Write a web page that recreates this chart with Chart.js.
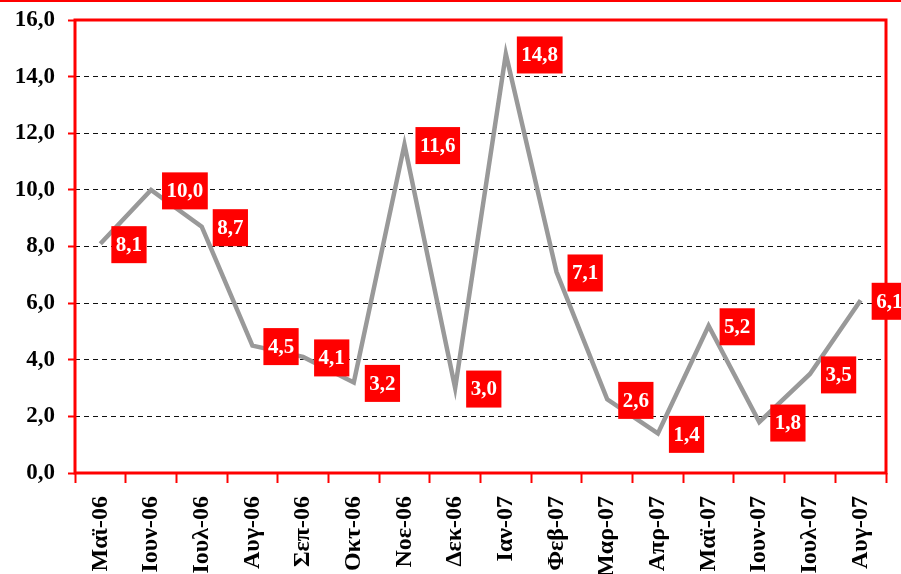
<!DOCTYPE html>
<html>
<head>
<meta charset="utf-8">
<script src="https://cdn.jsdelivr.net/npm/chart.js@4.4.0/dist/chart.umd.min.js"></script>
<style>
  html, body { margin: 0; padding: 0; background: #fff; }
  #wrap { width: 901px; height: 574px; position: relative; }
</style>
</head>
<body>
<div id="wrap"><canvas id="c" width="901" height="574"></canvas></div>
<script>
// monthly values, May 2006 - Aug 2007
var MONTHS = ['Μαϊ-06', 'Ιουν-06', 'Ιουλ-06', 'Αυγ-06', 'Σεπ-06', 'Οκτ-06', 'Νοε-06', 'Δεκ-06',
  'Ιαν-07', 'Φεβ-07', 'Μαρ-07', 'Απρ-07', 'Μαϊ-07', 'Ιουν-07', 'Ιουλ-07', 'Αυγ-07'];
var VALUES = [8.1, 10.0, 8.7, 4.5, 4.1, 3.2, 11.6, 3.0, 14.8, 7.1, 2.6, 1.4, 5.2, 1.8, 3.5, 6.1];
var Y_MIN = 0, Y_MAX = 16, Y_STEP = 2;

var RED = '#ff0000';
var SERIF = '"Liberation Serif", "Times New Roman", serif';

function fmtComma(v) {
  return Number(v).toFixed(1).replace('.', ',');
}

// red frame round the plot area + thin red rule at the very top
var framePlugin = {
  id: 'frame',
  afterDatasetsDraw: function (chart) {
    var a = chart.chartArea, ctx = chart.ctx;
    ctx.save();
    ctx.strokeStyle = RED;
    ctx.lineWidth = 3;
    ctx.strokeRect(a.left, a.top, a.right - a.left, a.bottom - a.top);
    ctx.fillStyle = RED;
    ctx.fillRect(0, 0, chart.width, 2);
    ctx.restore();
  }
};

// red value boxes to the right of each point
var valueBoxes = {
  id: 'valueBoxes',
  afterDraw: function (chart) {
    var ctx = chart.ctx;
    var meta = chart.getDatasetMeta(0);
    ctx.save();
    ctx.font = 'bold 21px ' + SERIF;
    ctx.textBaseline = 'middle';
    ctx.textAlign = 'left';
    meta.data.forEach(function (pt, i) {
      var txt = fmtComma(VALUES[i]);
      var w = ctx.measureText(txt).width + 9;
      var h = 37;
      var x = pt.x + 11, y = pt.y + 1 - h / 2;
      ctx.fillStyle = RED;
      ctx.fillRect(x, y, w, h);
      ctx.fillStyle = '#fff';
      ctx.fillText(txt, x + 4.5, y + h / 2 + 1);
    });
    ctx.restore();
  }
};

new Chart(document.getElementById('c'), {
  type: 'line',
  data: {
    labels: MONTHS,
    datasets: [{
      data: VALUES,
      borderColor: '#999999',
      borderWidth: 4.5,
      pointRadius: 0,
      tension: 0,
      fill: false
    }]
  },
  options: {
    responsive: false,
    animation: false,
    layout: { autoPadding: false, padding: { left: 0, top: 20, right: 15, bottom: 0 } },
    plugins: { legend: { display: false }, tooltip: { enabled: false } },
    scales: {
      x: {
        offset: true,
        grid: { offset: true, drawOnChartArea: false, drawTicks: true, tickLength: 10, tickColor: RED, tickWidth: 2, color: RED },
        border: { display: false },
        ticks: {
          minRotation: 90, maxRotation: 90, autoSkip: false, padding: 13,
          color: '#000', font: { family: SERIF, size: 24, weight: 'bold' }
        },
        afterFit: function (s) { s.height = 101; s.paddingLeft = 0; s.paddingRight = 0; }
      },
      y: {
        min: Y_MIN, max: Y_MAX,
        grid: {
          color: function (c) {
            var v = c.tick ? c.tick.value : null;
            return (v === Y_MIN || v === Y_MAX) ? 'rgba(0,0,0,0)' : '#111';
          },
          lineWidth: 1,
          tickLength: 7, tickColor: RED, tickWidth: 2, tickBorderDash: []
        },
        border: { display: false, dash: [5, 4] },
        ticks: {
          stepSize: Y_STEP, padding: 13,
          color: '#000', font: { family: SERIF, size: 23, weight: 'bold' },
          callback: function (v) { return fmtComma(v); }
        },
        afterFit: function (s) { s.width = 75; s.paddingTop = 0; s.paddingBottom = 0; }
      }
    }
  },
  plugins: [framePlugin, valueBoxes]
});
</script>
</body>
</html>
